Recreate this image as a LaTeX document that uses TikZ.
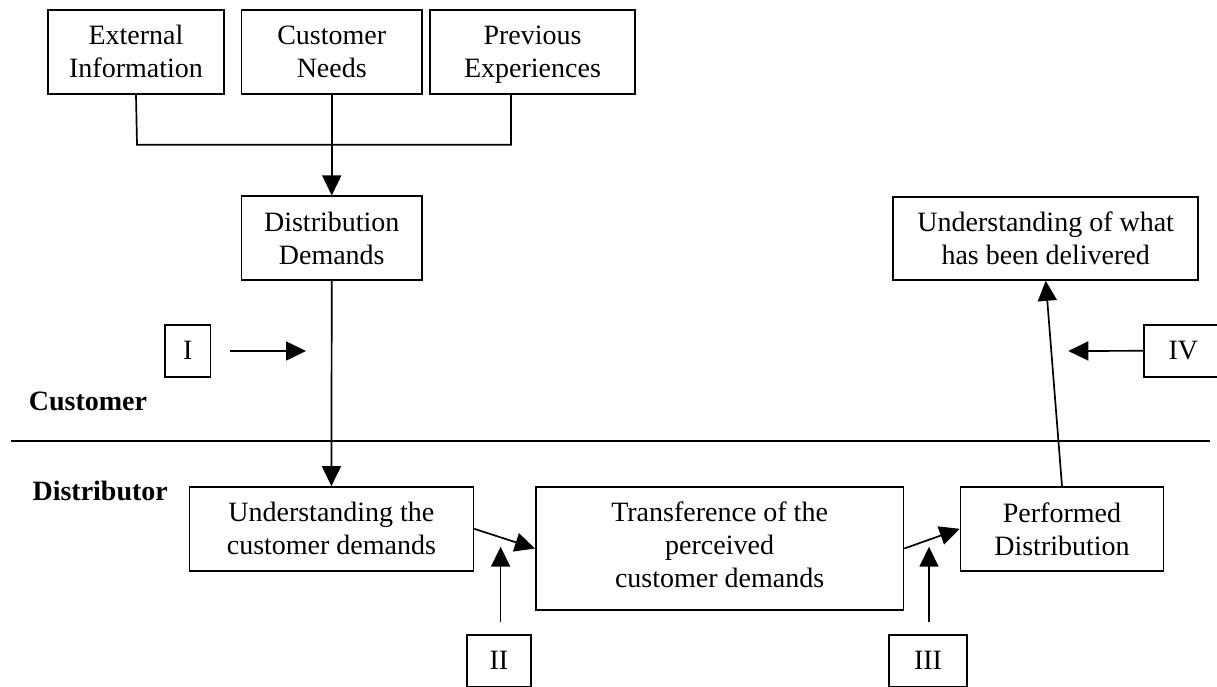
\documentclass[tikz,border=0pt]{standalone}
\usepackage{fontspec}
\setmainfont{Liberation Serif}
\usetikzlibrary{arrows.meta,calc}

\begin{document}
\begin{tikzpicture}[x=1pt,y=1pt,
    line width=1.7pt,
    txt/.style={font=\fontsize{28}{33}\selectfont, align=center, inner sep=0pt},
    box/.style={txt, draw, rectangle, line width=1.7pt},
    lane/.style={font=\fontsize{28}{33}\selectfont\bfseries, inner sep=0pt, anchor=base west},
    arr/.style={-{Triangle[length=20pt,width=19pt]}, line width=1.7pt}]

  \useasboundingbox (0,0) rectangle (1217,-686);
  \clip (0,0) rectangle (1217,-686);

  % input boxes on top
  \node[box, minimum width=176pt, minimum height=84pt] (ext) at (136,-51.7) {External\\Information};
  \node[box, minimum width=180.5pt, minimum height=84pt] (needs) at (331.75,-51.7) {Customer\\Needs};
  \node[box, minimum width=205pt, minimum height=84pt] (prev) at (532.5,-51.7) {Previous\\Ex\smash{p}eriences};

  % customer side
  \node[box, minimum width=180.5pt, minimum height=83.4pt] (dd) at (331.75,-238) {Distribution\\Demands};
  \node[box, minimum width=305pt, minimum height=83.3pt] (uwd) at (1045.7,-238.3) {Understanding of what\\has been delivered};

  % distributor side
  \node[box, minimum width=284pt, minimum height=83.7pt] (ucd) at (331.4,-528.8) {Understanding the\\customer demands};
  \node[box, minimum width=367.6pt, minimum height=123pt] (trans) at (719.6,-548.5) {Transference of the\\perceived\\customer demands\rule[-8pt]{0pt}{8pt}};
  \node[box, minimum width=203pt, minimum height=83.7pt] (perf) at (1062,-528.8) {Performed\\Distribution};

  % gap markers
  \node[box, minimum width=45.5pt, minimum height=51.7pt] (g1) at (187.8,-350.8) {I};
  \node[box, minimum width=64.2pt, minimum height=51.7pt] (g2) at (498.9,-660.6) {II};
  \node[box, minimum width=77.8pt, minimum height=51.7pt] (g3) at (928,-660.6) {III};
  \node[box, minimum width=78pt, minimum height=51.7pt] (g4) at (1183.3,-350.8) {IV};

  % lane labels and divider
  \node[lane] (cust) at (28,-410.7) {Customer};
  \node[lane] (dist) at (31.7,-500.7) {Distributor};
  \coordinate (divL) at (10.5,-441.2);
  \coordinate (divR) at (1210,-441.2);
  \draw (divL) -- (divR);

  % merging the three inputs
  \coordinate (join) at (137,-144.7);
  \coordinate (prevout) at ($(prev.south)+(-21.5,0)$);
  \draw (ext.south) -- (join) -| (prevout);
  \draw[arr] (needs.south) -- (dd.north);

  % main flow
  \draw[arr] (dd.south) -- (ucd.north);
  \draw[arr] (ucd.east) -- (trans.west);
  \draw[arr] (trans.east) -- (perf.west);
  \draw[arr] (perf.north) -- (uwd.south);

  % gap pointers
  \coordinate (p1s) at (229.6,-351);
  \coordinate (p1e) at (306,-351);
  \draw[arr] (p1s) -- (p1e);
  \coordinate (p2s) at (500.6,-622.3);
  \coordinate (p2e) at (500.6,-546.7);
  \draw[arr] (p2s) -- (p2e);
  \coordinate (p3s) at (929,-622.3);
  \coordinate (p3e) at (929,-546.7);
  \draw[arr] (p3s) -- (p3e);
  \coordinate (p4e) at (1068.3,-351);
  \draw[arr] (g4.west) -- (p4e);
\end{tikzpicture}
\end{document}
